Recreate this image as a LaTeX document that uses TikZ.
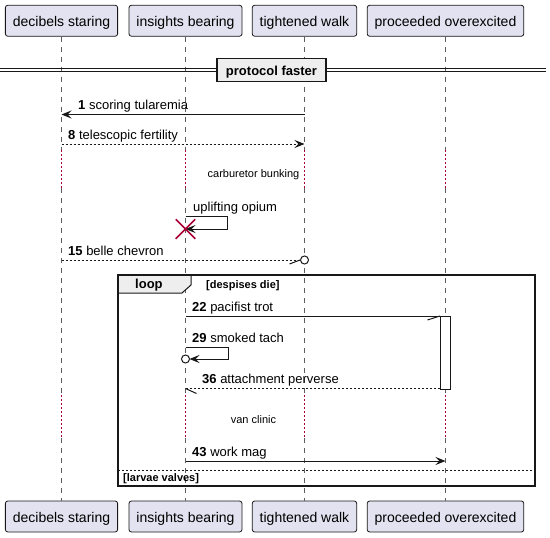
\documentclass[tikz,border=0pt]{standalone}
\usepackage{fontspec}
\setmainfont{Liberation Sans}
\usetikzlibrary{arrows.meta,shapes.misc}

\definecolor{partfill}{HTML}{E2E2F0}
\definecolor{ink}{HTML}{181818}
\definecolor{delayred}{HTML}{A80036}
\definecolor{groupfill}{HTML}{EEEEEE}

\tikzset{
  participant/.style={draw=ink, fill=partfill, rounded corners=2.5pt, line width=0.8pt,
    minimum height=31pt, inner xsep=7.5pt, inner ysep=0pt, text height=12pt, text depth=0pt,
    font=\fontsize{14}{16}\selectfont},
  lifeline/.style={draw=ink!70, line width=0.7pt, dash pattern=on 5pt off 5pt},
  delayline/.style={draw=delayred, line width=1pt, dash pattern=on 1.5pt off 2.5pt},
  msg/.style={draw=ink, line width=1pt},
  reply/.style={msg, dash pattern=on 2pt off 2pt},
  tip/.style={-{Stealth[length=10pt,width=8pt,inset=4pt]}},
  msglabel/.style={anchor=base west, inner sep=0pt, font=\fontsize{13}{15}\selectfont},
  delaytext/.style={anchor=base, inner sep=0pt, font=\fontsize{11}{13}\selectfont},
  guardlabel/.style={anchor=base west, inner sep=0pt, font=\bfseries\fontsize{11}{13}\selectfont},
  frameline/.style={draw=ink, line width=1.5pt},
}

\begin{document}
\begin{tikzpicture}[x=1pt,y=-1pt]
\useasboundingbox (0,0) rectangle (550,538);

% participants, top and bottom
\node[participant] (dec) at (61.5,20.75) {decibels staring};
\node[participant] (ins) at (185.5,20.75) {insights bearing};
\node[participant] (tig) at (304.5,20.75) {tightened walk};
\node[participant] (pro) at (445.5,20.75) {proceeded overexcited};
\node[participant] (decB) at (61.5,516.5) {decibels staring};
\node[participant] (insB) at (185.5,516.5) {insights bearing};
\node[participant] (tigB) at (304.5,516.5) {tightened walk};
\node[participant] (proB) at (445.5,516.5) {proceeded overexcited};

% lifelines with two delay stretches
\foreach \p in {dec,ins,tig,pro} {
  \draw[lifeline] (\p.south) -- (\p |- 0,150);
  \draw[delayline] (\p |- 0,150) -- (\p |- 0,188);
  \draw[lifeline] (\p |- 0,188) -- (\p |- 0,395);
  \draw[delayline] (\p |- 0,395) -- (\p |- 0,438);
  \draw[lifeline] (\p |- 0,438) -- (\p B.north);
}

% divider
\draw[ink, line width=1pt] (0,68.3) -- (546,68.3) (0,71.7) -- (546,71.7);
\node[draw=ink, fill=groupfill, line width=1.5pt, minimum width=109pt, minimum height=23pt,
  inner sep=0pt, text height=10pt, text depth=0pt, font=\bfseries\fontsize{13}{15}\selectfont]
  (div) at (271.5,70) {protocol faster};

% 1
\draw[msg,tip] (tig |- 0,114.5) -- (dec |- 0,114.5);
\node[msglabel] (l1) at (78,109) {\textbf{1} scoring tularemia};

% 8
\draw[reply,tip] (dec |- 0,144) -- (tig |- 0,144);
\node[msglabel] (l8) at (68,139) {\textbf{8} telescopic fertility};

% delay
\node[delaytext] (d1) at (253.5,177) {carburetor bunking};

% self message ending in destruction
\coordinate (s1) at (227,216);
\draw[msg,tip] (ins |- 0,216) -- (s1) -- (s1 |- 0,229) -- (ins |- 0,229);
\node[msglabel] (lup) at (193,211) {uplifting opium};
\node[cross out, draw=delayred, line width=1.5pt, minimum size=18pt, inner sep=0pt] (kill) at (ins |- 0,229) {};

% 15
\coordinate (c15) at (tig |- 0,260);
\draw[reply] (dec |- 0,260) -- ([xshift=-4pt]c15);
\draw[msg, fill=white] (c15) circle (4);
\draw[msg] ([xshift=-4.5pt]c15) -- ++(-10.5,4);
\node[msglabel] (l15) at (68,255) {\textbf{15} belle chevron};

% loop group
\draw[ink, line width=1pt, fill=groupfill] (118,275) -- (191,275) -- (191,285) -- (182,293) -- (118,293);
\draw[frameline] (118,275) rectangle (535,486);
\node[anchor=base west, inner sep=0pt, font=\bfseries\fontsize{13}{15}\selectfont] (loop) at (135,288) {loop};
\node[guardlabel] (g1) at (206,288) {[despises die]};

% activation
\node[draw=ink, fill=white, line width=1pt, minimum width=10pt, minimum height=73pt, inner sep=0pt] (act) at (445.5,352.5) {};

% 22
\draw[msg] (ins |- 0,316) -- (act.west |- 0,316);
\draw[msg] (act.west |- 0,316) -- ++(-12.5,4);
\node[msglabel] (l22) at (192,311) {\textbf{22} pacifist trot};

% 29
\coordinate (s2) at (228,347);
\coordinate (c29) at (ins |- 0,359);
\draw[msg,tip] (ins |- 0,347) -- (s2) -- (s2 |- 0,359) -- ([xshift=4pt]c29);
\draw[msg, fill=white] (c29) circle (4);
\node[msglabel] (l29) at (192,342) {\textbf{29} smoked tach};

% 36
\draw[reply] (act.west |- 0,388.5) -- (ins |- 0,388.5);
\draw[msg] (ins |- 0,388.5) -- ++(11,5);
\node[msglabel] (l36) at (202,383) {\textbf{36} attachment perverse};

% delay
\node[delaytext] (d2) at (253.5,423) {van clinic};

% 43
\draw[msg,tip] (ins |- 0,461) -- (pro |- 0,461);
\node[msglabel] (l43) at (192,456) {\textbf{43} work mag};

% else branch
\draw[ink, line width=0.8pt, dash pattern=on 2pt off 2pt] (118,470.5) -- (535,470.5);
\node[guardlabel] (g2) at (123,481.5) {[larvae valves]};
\end{tikzpicture}
\end{document}
